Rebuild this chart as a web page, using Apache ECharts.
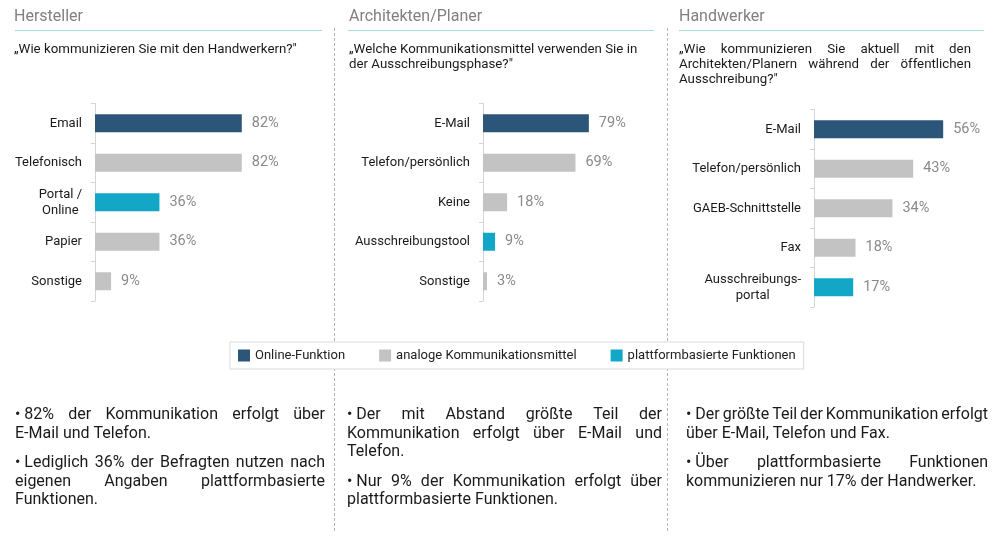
<!DOCTYPE html>
<html>
<head>
<meta charset="utf-8">
<script src="https://cdn.jsdelivr.net/npm/echarts@6/dist/echarts.min.js"></script>
<style>
html,body{margin:0;padding:0;background:#fff;}
#chart{width:1000px;height:539px;}
</style>
</head>
<body>
<div id="chart"></div>
<script>
// ---------- data ----------
const panelTitles = ['Hersteller', 'Architekten/Planer', 'Handwerker'];
const questionLines = [
  ['„Wie kommunizieren Sie mit den Handwerkern?"'],
  ['„Welche Kommunikationsmittel verwenden Sie in', 'der Ausschreibungsphase?"'],
  ['„Wie kommunizieren Sie aktuell mit den', 'Architekten/Planern während der öffentlichen', 'Ausschreibung?"']
];
const herstellerCategories = ['Email', 'Telefonisch', 'Portal /\nOnline', 'Papier', 'Sonstige'];
const herstellerValues = [82, 82, 36, 36, 9];
const herstellerTypes = ['online', 'analog', 'platform', 'analog', 'analog'];

const planerCategories = ['E-Mail', 'Telefon/persönlich', 'Keine', 'Ausschreibungstool', 'Sonstige'];
const planerValues = [79, 69, 18, 9, 3];
const planerTypes = ['online', 'analog', 'analog', 'platform', 'analog'];

const handwerkerCategories = ['E-Mail', 'Telefon/persönlich', 'GAEB-Schnittstelle', 'Fax', 'Ausschreibungs-\nportal'];
const handwerkerValues = [56, 43, 34, 18, 17];
const handwerkerTypes = ['online', 'analog', 'analog', 'analog', 'platform'];

const typeKeys = ['online', 'analog', 'platform'];
const legendNames = ['Online-Funktion', 'analoge Kommunikationsmittel', 'plattformbasierte Funktionen'];

const bulletParagraphs = [
  [['• 82% der Kommunikation erfolgt über', 'E-Mail und Telefon.'],
   ['• Lediglich 36% der Befragten nutzen nach', 'eigenen Angaben plattformbasierte', 'Funktionen.']],
  [['• Der mit Abstand größte Teil der', 'Kommunikation erfolgt über E-Mail und', 'Telefon.'],
   ['• Nur 9% der Kommunikation erfolgt über', 'plattformbasierte Funktionen.']],
  [['• Der größte Teil der Kommunikation erfolgt', 'über E-Mail, Telefon und Fax.'],
   ['• Über plattformbasierte Funktionen', 'kommunizieren nur 17% der Handwerker.']]
];

// ---------- styles / layout ----------
const FONT = 'Roboto';
const COLORS = { online: '#2c5679', analog: '#c3c3c3', platform: '#13a7c7' };
const panels = [
  { cats: herstellerCategories, vals: herstellerValues, types: herstellerTypes,
    grid: { left: 95, top: 103.5, width: 179, height: 197.5 }, xMax: 100,
    x0: 15, x1: 325, lineX0: 15, lineX1: 322, qJustify: false, qx1: 300 },
  { cats: planerCategories, vals: planerValues, types: planerTypes,
    grid: { left: 483, top: 103.5, width: 134, height: 197.5 }, xMax: 100,
    x0: 347, x1: 662, lineX0: 348, lineX1: 654, qJustify: false, qx1: 650 },
  { cats: handwerkerCategories, vals: handwerkerValues, types: handwerkerTypes,
    grid: { left: 814, top: 109.5, width: 173, height: 197.5 }, xMax: 75,
    x0: 686, x1: 988, lineX0: 679, lineX1: 984, qJustify: true, qx1: 971 }
];
const headerX = [14, 349, 679];

const measureCtx = document.createElement('canvas').getContext('2d');
function measure(text, size) {
  measureCtx.font = size + 'px ' + FONT;
  return measureCtx.measureText(text).width;
}

function textLine(text, x0, x1, y, size, fill, justify) {
  if (!justify) {
    return [{ type: 'text', x: x0, y: y, silent: true,
      style: { text: text, fontSize: size, fontFamily: FONT, fill: fill, align: 'left', verticalAlign: 'middle' } }];
  }
  let words = text.split(' ');
  if (words[0] === '•') words = ['• ' + words[1]].concat(words.slice(2));
  const widths = words.map(w => measure(w, size));
  const total = widths.reduce((a, b) => a + b, 0);
  const gap = words.length > 1 ? (x1 - x0 - total) / (words.length - 1) : 0;
  const out = [];
  let x = x0;
  words.forEach((w, i) => {
    out.push({ type: 'text', x: x, y: y, silent: true,
      style: { text: w, fontSize: size, fontFamily: FONT, fill: fill, align: 'left', verticalAlign: 'middle' } });
    x += widths[i] + gap;
  });
  return out;
}

const graphics = [];
// separators
[334.5, 667.5].forEach(x => {
  graphics.push({ type: 'line', silent: true, z: 0,
    shape: { x1: x, y1: 28, x2: x, y2: 532 },
    style: { stroke: '#b3b3b3', lineWidth: 1, lineDash: [3, 2] } });
});
panels.forEach((p, i) => {
  graphics.push({ type: 'text', x: headerX[i], y: 17, silent: true,
    style: { text: panelTitles[i], fontSize: 16, fontFamily: FONT, fill: '#808080', verticalAlign: 'middle' } });
  graphics.push({ type: 'line', silent: true,
    shape: { x1: p.lineX0, y1: 30.5, x2: p.lineX1, y2: 30.5 },
    style: { stroke: '#a8dbe1', lineWidth: 1 } });
  const ql = questionLines[i];
  ql.forEach((t, k) => {
    const last = k === ql.length - 1;
    textLine(t, headerX[i], p.qx1, 49.5 + k * 15, 13.3, '#1a1a1a', p.qJustify && !last)
      .forEach(g => graphics.push(g));
  });
  let y = 415;
  bulletParagraphs[i].forEach(par => {
    par.forEach((t, k) => {
      const last = k === par.length - 1;
      textLine(t, p.x0, p.x1, y, 16, '#1a1a1a', !last).forEach(g => graphics.push(g));
      y += 18.5;
    });
    y += 11;
  });
});

const grids = [], xAxes = [], yAxes = [], series = [];
panels.forEach((p, i) => {
  grids.push(Object.assign({ containLabel: false }, p.grid));
  xAxes.push({ type: 'value', gridIndex: i, min: 0, max: p.xMax, show: false });
  yAxes.push({
    type: 'category', gridIndex: i, inverse: true, data: p.cats,
    axisLine: { show: true, lineStyle: { color: '#d5d5d5', width: 1 } },
    axisTick: { show: true, length: 4, lineStyle: { color: '#d5d5d5' } },
    axisLabel: {
      margin: 13, color: '#1a1a1a', fontSize: 13, fontFamily: FONT,
      formatter: v => v.split('\n').map(s => '{c|' + s + '}').join('\n'),
      rich: { c: { align: 'center', fontSize: 13, lineHeight: 16, color: '#1a1a1a', fontFamily: FONT } }
    },
    splitLine: { show: false }
  });
  typeKeys.forEach((t, k) => {
    series.push({
      type: 'bar', name: legendNames[k], xAxisIndex: i, yAxisIndex: i, stack: 'p' + i,
      barWidth: 18,
      data: p.vals.map((v, j) => p.types[j] === t ? v : '-'),
      itemStyle: { color: COLORS[t] },
      label: { show: true, position: 'right', distance: 10, formatter: '{c}%',
        color: '#8a8a8a', fontSize: 14.5, fontFamily: FONT },
      emphasis: { disabled: true },
      silent: true
    });
  });
});

const chart = echarts.init(document.getElementById('chart'), null, { renderer: 'canvas' });
chart.setOption({
  animation: false,
  backgroundColor: '#fff',
  textStyle: { fontFamily: FONT },
  grid: grids,
  xAxis: xAxes,
  yAxis: yAxes,
  legend: {
    left: 230, top: 342, data: legendNames, icon: 'rect', selectedMode: false,
    itemWidth: 12, itemHeight: 12, itemGap: 34, padding: [7, 8, 7, 8],
    borderColor: '#d9d9d9', borderWidth: 1, backgroundColor: '#fff', z: 10,
    textStyle: { fontSize: 13, color: '#222', fontFamily: FONT }
  },
  graphic: graphics,
  series: series
});
</script>
</body>
</html>
